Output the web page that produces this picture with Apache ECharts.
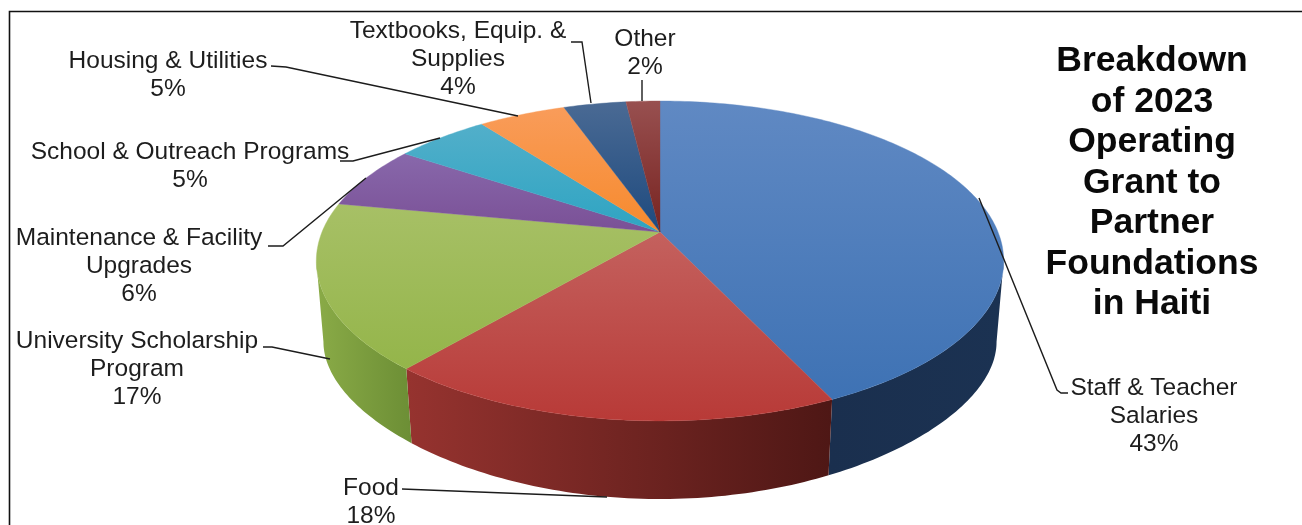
<!DOCTYPE html>
<html>
<head>
<meta charset="utf-8">
<style>html,body{margin:0;padding:0;background:#fff}#c{width:1302px;height:525px}</style>
<script src="https://cdn.jsdelivr.net/npm/echarts@6/dist/echarts.min.js"></script>
</head>
<body>
<div id="c"></div>
<script>
// DATA
const categories = ['Staff & Teacher\nSalaries','Food','University Scholarship\nProgram','Maintenance & Facility\nUpgrades','School & Outreach Programs','Housing & Utilities','Textbooks, Equip. &\nSupplies','Other'];
const values = [43, 18.2, 16.8, 6.4, 5.3, 4.9, 3.5, 1.9];
const titleLines = ['Breakdown','of 2023','Operating','Grant to','Partner','Foundations','in Haiti'];

// STYLE / LAYOUT
const topColors = [['#6089C3','#3E72B4'],['#C4615E','#B83A37'],['#A7C066','#94B54A'],['#8868AB','#7A5096'],['#52AFCA','#2EA4C2'],['#F99C5A','#F68A2D'],['#4A6A94','#1E4A7E'],['#985050','#772320']];
const wallColors = [['#1B3252','#1A2F4E'],['#96332F','#4E1715'],['#8AAB47','#6C8E35'],['#5A4070','#5A4070'],['#1F7087','#1F7087'],['#A85F1F','#A85F1F'],['#14304F','#14304F'],['#501715','#501715']];
const topDisk = {cx:660, cy:232, a:338, b:154.7, kx:0.181, ky:0.181};
const botDisk = {cx:660, cy:317.6, a:331, b:127, kx:0.181, ky:0.3};
const wallRange = [100.4, 259.6];
// label block: centre x, top y; leader polyline
const labelLayout = [
  {x:1154, y:374, line:[[979,198],[1057,390],[1061,393],[1068,393]]},
  {x:371,  y:474, line:[[402,489],[607,497]]},
  {x:137,  y:327, line:[[263,347],[272,347],[330,359]]},
  {x:139,  y:224, line:[[268,246],[283,246],[366,178]]},
  {x:190,  y:138, line:[[340,161],[353,161],[440,138]]},
  {x:168,  y:47,  line:[[271,66],[286,67],[518,116]]},
  {x:458,  y:17,  line:[[571,42],[582,42],[591,103]]},
  {x:645,  y:25,  line:[[642,80],[642,101]]}
];

function project(deg, d){
  const t = deg*Math.PI/180, u = Math.sin(t), v = -Math.cos(t);
  return [d.cx + d.a*u/(1-d.kx*v), d.cy + d.b*v/(1-d.ky*v)];
}
function arc(a0, a1, d){
  const pts = [], n = Math.max(2, Math.ceil(Math.abs(a1-a0)));
  for(let i=0;i<=n;i++) pts.push(project(a0+(a1-a0)*i/n, d));
  return pts;
}
const total = values.reduce((a,b)=>a+b,0);
function sliceAngles(i){
  let s = 0; for(let j=0;j<i;j++) s += values[j];
  return [s/total*360, (s+values[i])/total*360];
}
const seriesData = values.map((v,i)=>({name:categories[i], value:[v,i]}));

function renderWall(params, api){
  const i = api.value(1), [a0,a1] = sliceAngles(i);
  const s = Math.max(a0,wallRange[0]), e = Math.min(a1,wallRange[1]);
  if(e<=s) return {type:'group',children:[]};
  const pts = arc(s,e,topDisk).concat(arc(e,s,botDisk));
  return {type:'polygon', shape:{points:pts}, silent:true, style:{
    fill:new echarts.graphic.LinearGradient(i===0?1:0,0,i===0?0:1,0,[{offset:0,color:wallColors[i][0]},{offset:1,color:wallColors[i][1]}])}};
}
function renderTop(params, api){
  const i = api.value(1), [a0,a1] = sliceAngles(i);
  const pts = [[topDisk.cx,topDisk.cy]].concat(arc(a0,a1,topDisk));
  const fill = new echarts.graphic.LinearGradient(0,0,0,1,[{offset:0,color:topColors[i][0]},{offset:1,color:topColors[i][1]}]);
  return {type:'polygon', shape:{points:pts}, silent:true, style:{fill:fill, stroke:fill, lineWidth:0.4}};
}
function renderLabel(params, api){
  const i = api.value(1), L = labelLayout[i];
  return {type:'group', silent:true, children:[
    {type:'polyline', shape:{points:L.line}, style:{fill:null, stroke:'#1c1c1c', lineWidth:1.4}},
    {type:'text', x:L.x, y:L.y, style:{
      text: categories[i]+'\n'+Math.round(api.value(0))+'%',
      fill:'#1d1d1d', font:'24.5px "Liberation Sans", Arial, sans-serif',
      lineHeight:28, align:'center', verticalAlign:'top'}}
  ]};
}

const chart = echarts.init(document.getElementById('c'), null, {renderer:'canvas'});
chart.setOption({
  animation:false,
  backgroundColor:'#ffffff',
  title:{
    text:titleLines.join('\n'), left:1147, top:36, textAlign:'center',
    textStyle:{fontFamily:'"Liberation Sans", Arial, sans-serif', fontWeight:'bold', fontSize:35.5, lineHeight:40.5, color:'#0a0a0a'}
  },
  tooltip:{show:false},
  graphic:[
    {type:'polyline', silent:true, shape:{points:[[9.5,525],[9.5,11.5],[1302,11.5]]}, style:{fill:null, stroke:'#111', lineWidth:1.6}}
  ],
  series:[
    {type:'custom', name:'wall', coordinateSystem:'none', z:1, renderItem:renderWall, data:seriesData},
    {type:'custom', name:'top',  coordinateSystem:'none', z:2, renderItem:renderTop,  data:seriesData},
    {type:'custom', name:'labels', coordinateSystem:'none', z:3, renderItem:renderLabel, data:seriesData}
  ]
});
</script>
</body>
</html>
